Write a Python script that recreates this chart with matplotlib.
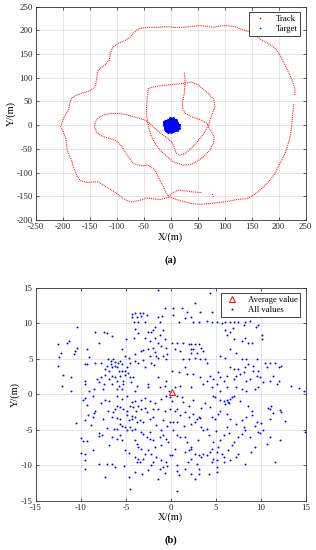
import matplotlib
matplotlib.use("Agg")
import matplotlib.pyplot as plt
from matplotlib.lines import Line2D
import numpy as np

plt.rcParams['font.family'] = ['Liberation Serif', 'DejaVu Serif']
plt.rcParams['axes.unicode_minus'] = False

# ---- track (a), one list per visible stroke ----
outer_x = [230.2, 230.2, 225.9, 221, 214.8, 208.6, 202.4, 193.1, 180.8, 168.4, 156.1, 143.7, 131.3, 119, 103.5,
           91.2, 78.8, 63.4, 51, 35.5, 20.1, 4.6, -10.8, -26.3, -41.7, -57.2, -63.3, -69.5, -75.7, -85, -97.3,
           -106.6, -109.7, -112.8, -114, -122, -131.3, -136.3, -137.5, -140.6, -150, -165.3, -177.7, -183.9,
           -187, -188.2, -190.1, -199.3, -202.4, -204.3, -199.3, -196.2, -193.1, -193, -190, -183.9, -180.8,
           -174.6, -168.4, -156, -143.7, -134.4, -119, -100.4, -85, -72.6, -57.2, -44.8, -35.5, -20, -1.5, 10.8,
           26.3, 38.6, 54, 69.5, 85, 97.3, 109.7, 122, 140.6, 153, 165.3, 174.6, 183.9, 193.1, 199.3, 205.5,
           211.7, 216, 219.7, 222.2, 224, 225.3, 225.9, 227.1, 228.4]
outer_y = [63.4, 77.5, 91.5, 105.6, 119.7, 133.8, 147.9, 162, 172.5, 179.6, 190.1, 197.2, 202.1, 207.7, 209.9,
           209.2, 206.3, 209.2, 209.9, 207.7, 206.3, 206.3, 207.7, 206.3, 206.3, 204.2, 200.7, 193.7, 185.2, 178.2,
           172.5, 165.5, 158.5, 147.9, 137.3, 126.8, 119.7, 112.7, 95.1, 81, 72.5, 66.9, 62, 56.3, 49.3, 38.7,
           31.7, 14.1, 3.5, -3.5, -14.1, -24.6, -35.2, -49.3, -60, -74, -88, -105.6, -116.2, -121, -119.7,
           -119.7, -130.3, -144.4, -157, -162, -158.5, -153.5, -155, -157, -151.4, -157, -162, -165.5, -166.9,
           -165.5, -164, -162, -159.9, -157, -155, -147.9, -137.3, -126.8, -116.2, -102.1, -88, -73.9, -59.9,
           -45.8, -31.7, -17.6, -3.5, 10.6, 21.1, 31.7, 45.8]

inner_x = [25, 26.3, 26.3, 25, 21.9, 21.9, 27.5, 38.6, 54, 65.2, 69.5, 63.4, 54, 44.8, 35.5, 26.3, 17, 9.6, 6.5,
           1.5, -7.7, -18.2, -29.4, -38.6, -47.9, -63.4, -78.8, -94.3, -109.7, -122, -134.4, -139.4, -141.5,
           -138, -128.2, -112.8, -100.4, -91.2, -85, -78.8, -69.5, -54, -41.7, -35, -29.4, -23.2, -17, -10.8, -4.6]
inner_y = [110.6, 98.6, 88, 66.9, 49.3, 35.2, 24.6, 17.6, 12, 4.9, 0, -14, -28.2, -40.1, -51.4, -59.9, -63.4,
           -58.5, -47.2, -35.2, -26, -17.6, -7, 3.5, 10.6, 16.2, 21.1, 24.6, 24.6, 22.5, 16.2, 7, -2,
           -14, -23, -28.2, -33.1, -44.4, -56.3, -66.9, -81, -86, -84.5, -90, -95, -109, -123, -137.3, -150]

branch_x = [-4.6, 5, 13.9, 26.3, 41.7, 57.2]
branch_y = [-150, -142, -137.3, -138.7, -140.8, -142.3]
stray_x = [75.7, 78.8]
stray_y = [-144.4, -149.3]

loop_x = [-41.7, -43.6, -44.8, -44.8, -43, -40.5, -36.8, -30.6, -20, -10, 4.6, 23.2, 38.6, 52, 63.4, 72.6, 79,
          80.5, 77, 69.5, 72.6, 76.9, 81.9, 79.4, 69.5, 60.3, 51, 38.6, 23.2, 4.6, -13.9, -29.4, -41.7]
loop_y = [77.5, 59.9, 38.7, 21.1, 7, -7, -21.1, -35.2, -52.8, -63, -77.5, -84.5, -82.4, -74, -63.4, -52.8, -38,
          -27, -16.2, -3.5, 10.6, 24.6, 40.1, 54.2, 66.9, 75.4, 84.5, 91, 88, 85.9, 83.8, 81, 77.5]

# ---- target positions (b), also the blue blob in (a) ----
pts_ul = [(-1.4, 14.6), (-4.3, 11.3), (-4.0, 11.4), (-3.4, 11.5), (-3.1, 11.4), (-4.3, 10.8), (-3.8, 10.8),
          (-3.3, 11.0), (-4.1, 10.2), (-3.6, 10.1), (-2.9, 10.2), (-2.7, 11.2), (-1.4, 10.8), (-1.2, 10.2),
          (-1.8, 9.5), (-2.2, 8.8), (-2.5, 8.8), (-2.0, 9.1), (-4.0, 9.2), (-3.6, 8.6), (-4.1, 7.9), (-2.9, 7.9),
          (-2.3, 7.5), (-1.8, 7.9), (-1.2, 8.4), (-0.9, 9.1), (-0.6, 7.7), (-1.4, 7.2), (-1.1, 6.8), (-2.0, 6.5),
          (-2.5, 6.3), (-3.1, 6.2), (-3.3, 6.1), (-1.8, 6.0), (-1.7, 5.4), (-0.5, 6.5), (-0.4, 5.6), (-0.9, 5.4),
          (-2.3, 5.4), (-4.0, 5.6), (-4.7, 5.1), (-5.1, 5.4), (-5.4, 6.3), (-5.0, 7.7), (-6.5, 8.2), (-7.1, 8.6),
          (-7.4, 8.7), (-8.4, 8.7), (-10.4, 9.5), (-8.0, 7.2), (-9.3, 6.3), (-10.4, 6.5), (-10.7, 6.1),
          (-10.8, 5.6), (-11.3, 7.5), (-11.5, 7.2), (-12.2, 5.8), (-12.4, 5.2), (-12.6, 7.0), (-12.6, 4.0),
          (-12.0, 2.7), (-11.1, 2.4), (-12.1, 1.1), (-11.1, 0.5), (-9.6, 1.9), (-9.5, 1.4), (-9.1, 0.5),
          (-8.5, 0.7), (-7.6, 0.7), (-9.1, 5.2), (-8.4, 4.4), (-9.3, 4.2), (-9.6, 4.2), (-7.8, 4.4), (-7.0, 4.9),
          (-6.7, 4.7), (-6.7, 4.2), (-7.1, 3.9), (-6.4, 4.9), (-6.2, 4.6), (-5.9, 4.4), (-5.6, 4.7), (-5.4, 4.2),
          (-6.2, 4.0), (-6.5, 3.8), (-6.0, 3.8), (-7.3, 3.5), (-6.9, 3.3), (-5.8, 3.3), (-5.4, 3.3), (-5.1, 3.3),
          (-4.9, 3.8), (-4.5, 4.4), (-4.0, 4.7), (-3.6, 4.4), (-3.1, 4.8), (-2.9, 3.8), (-2.2, 4.4), (-1.9, 4.1),
          (-1.4, 5.1), (-0.5, 4.9), (-7.3, 2.7), (-6.5, 2.6), (-6.2, 2.4), (-5.6, 2.6), (-5.1, 2.7), (-4.8, 3.0),
          (-6.9, 2.1), (-6.0, 1.9), (-5.3, 1.9), (-4.5, 2.4), (-4.2, 2.4), (-7.8, 2.4), (-8.2, 2.1), (-8.0, 1.7),
          (-7.4, 1.4), (-6.5, 1.4), (-5.8, 1.2), (-5.3, 1.4), (-4.4, 1.7), (-3.8, 1.2), (-2.5, 1.4), (-6.0, 0.7),
          (-5.4, 0.7), (-4.0, 0.5), (-2.5, 1.0), (-1.4, 2.4), (-0.5, 1.9), (-1.2, 1.0), (-0.7, 1.2), (-0.2, 0.5),
          (-0.6, 12.1), (-1.0, 11.0)]
pts_ur = [(4.4, 14.2), (2.7, 12.8), (1.2, 12.1), (0.3, 12.1), (1.8, 11.6), (3.3, 11.6), (0.3, 11.2), (0.9, 10.2),
          (1.6, 10.7), (2.2, 10.9), (2.5, 10.2), (3.1, 10.2), (4.0, 10.3), (4.6, 11.6), (4.6, 10.2), (5.1, 10.2),
          (5.7, 10.0), (6.0, 10.2), (6.6, 10.2), (7.0, 10.2), (7.5, 10.1), (8.3, 10.2), (8.8, 10.3), (9.7, 9.8),
          (9.5, 9.4), (6.6, 8.8), (6.0, 9.1), (6.2, 8.4), (7.0, 7.7), (7.9, 7.5), (8.3, 7.9), (8.6, 7.2),
          (9.0, 7.2), (10.1, 7.7), (0.7, 7.2), (0.1, 7.2), (1.4, 7.2), (2.0, 7.0), (2.3, 7.0), (2.7, 7.0),
          (3.1, 7.0), (2.2, 6.3), (2.5, 6.3), (3.4, 6.5), (2.3, 5.8), (2.9, 5.8), (3.6, 6.1), (2.7, 5.1),
          (3.3, 4.9), (3.8, 4.9), (4.0, 4.4), (1.0, 6.1), (0.5, 6.3), (1.4, 4.9), (2.0, 4.9), (5.5, 5.4),
          (6.0, 5.1), (6.6, 6.3), (7.3, 5.8), (7.9, 4.9), (8.4, 4.9), (9.6, 4.9), (10.5, 4.4), (11.0, 4.4),
          (11.6, 4.4), (12.3, 4.0), (12.0, 3.8), (12.0, 1.8), (13.4, 1.2), (14.3, 0.9), (14.8, 0.4), (0.1, 3.3),
          (0.9, 3.1), (1.6, 3.8), (1.8, 2.8), (2.5, 2.8), (3.3, 2.4), (3.6, 1.4), (4.0, 1.9), (4.4, 2.6),
          (4.7, 2.1), (5.3, 3.1), (5.5, 2.4), (5.9, 1.9), (6.2, 2.6), (6.6, 3.8), (7.0, 3.5), (7.3, 2.6),
          (7.7, 2.8), (8.1, 3.1), (8.4, 1.9), (8.8, 2.1), (9.2, 3.3), (9.6, 2.6), (9.9, 2.4), (10.3, 1.7),
          (10.7, 3.8), (11.0, 1.9), (11.4, 2.6), (11.8, 1.4), (5.1, 1.4), (4.6, 1.0), (2.2, 1.0), (1.0, 1.2),
          (0.5, 1.0), (7.3, 1.0), (7.9, 0.7), (9.4, 0.7), (9.7, 1.0), (7.0, 2.1), (7.5, 3.5), (8.3, 3.8),
          (8.6, 4.2), (9.2, 4.0), (9.7, 3.3), (5.5, 0.5), (8.4, 0.4), (6.2, 1.0), (10.2, 8.3), (8.1, 9.8),
          (6.9, 9.3)]
pts_ll = [(-9.8, -0.8), (-9.5, -0.5), (-8.7, -0.3), (-7.3, -0.8), (-6.9, -0.9), (-6.0, -0.2), (-5.4, -0.7),
          (-4.9, -0.3), (-4.3, -1.1), (-4.0, -1.0), (-3.3, -0.8), (-2.9, -0.5), (-2.3, -0.9), (-1.8, -1.3),
          (-1.1, -0.7), (-0.5, -0.2), (-0.1, -0.4), (-9.3, -1.5), (-8.4, -2.4), (-8.5, -2.6), (-7.0, -2.3),
          (-6.4, -2.5), (-6.0, -1.6), (-6.2, -2.1), (-5.6, -1.8), (-5.3, -2.1), (-4.9, -2.3), (-4.5, -1.6),
          (-4.2, -1.8), (-3.6, -1.7), (-3.3, -2.1), (-2.9, -1.9), (-2.7, -2.5), (-2.0, -2.1), (-1.4, -2.1),
          (-0.7, -2.3), (-0.1, -2.1), (-7.6, -3.5), (-8.7, -3.2), (-6.5, -3.2), (-6.0, -3.3), (-5.6, -3.5),
          (-4.9, -3.0), (-4.7, -3.7), (-4.3, -3.5), (-4.0, -3.2), (-3.8, -3.9), (-3.4, -3.7), (-3.1, -3.9),
          (-2.3, -3.5), (-2.0, -3.2), (-0.9, -3.7), (-0.1, -3.9), (-10.6, -4.1), (-8.9, -4.3), (-7.1, -4.7),
          (-6.0, -4.9), (-5.4, -4.5), (-5.1, -4.6), (-4.9, -5.1), (-4.5, -4.6), (-4.3, -5.1), (-4.0, -4.9),
          (-3.3, -5.3), (-3.1, -5.6), (-2.3, -5.3), (-10.0, -6.2), (-9.3, -6.6), (-8.0, -5.5), (-8.0, -5.9),
          (-6.5, -6.0), (-6.0, -6.3), (-5.6, -5.8), (-5.4, -6.5), (-4.0, -6.5), (-3.8, -7.0), (-3.6, -7.4),
          (-3.3, -7.7), (-2.7, -6.0), (-2.3, -6.3), (-2.0, -6.5), (-1.2, -6.0), (-0.9, -5.8), (-0.5, -6.3),
          (-0.3, -6.7), (-1.1, -7.2), (-1.8, -7.4), (-2.5, -7.9), (-2.2, -8.4), (-2.9, -8.4), (-4.0, -8.8),
          (-3.6, -9.1), (-3.1, -9.1), (-3.8, -9.5), (-3.4, -9.5), (-2.0, -9.5), (-1.1, -9.3), (-0.5, -9.5),
          (-0.1, -8.6), (-10.0, -8.3), (-9.5, -8.4), (-8.7, -7.9), (-8.0, -9.8), (-7.1, -9.9), (-6.5, -9.9),
          (-6.2, -10.3), (-7.3, -11.6), (-9.5, -10.6), (-4.0, -10.9), (-2.5, -10.7), (-2.2, -10.0),
          (-1.2, -10.5), (-0.9, -10.2), (-0.4, -10.1), (-4.5, -13.4), (-4.7, -11.6), (-9.6, -9.3),
          (-9.8, -6.6), (-6.9, -7.1), (-7.7, -5.7), (-6.3, -4.9), (-5.7, -4.2), (-4.3, -3.1), (-3.9, -2.4),
          (-1.6, -4.4), (-1.1, -5.1), (-0.4, -4.5), (-7.8, -1.2), (-9.2, -2.9), (-9.6, -3.6), (-5.1, -7.9),
          (-4.6, -8.3), (-1.7, -8.8), (-5.2, -10.1), (-0.7, -11.1), (-3.2, -11.3), (-1.4, -12.0)]
pts_lr = [(0.7, -0.2), (1.2, -0.4), (4.7, -0.3), (4.9, -0.4), (5.5, -0.8), (5.9, -0.9), (6.2, -0.8), (6.6, -0.7),
          (6.8, -0.4), (7.0, -0.2), (6.4, -1.1), (6.0, -1.4), (6.5, -1.3), (7.7, -0.9), (8.6, -1.6), (9.0, -2.3),
          (11.0, -2.1), (11.2, -1.6), (11.0, -3.5), (12.3, -2.5), (12.7, -3.8), (0.1, -0.9), (0.7, -2.1),
          (0.5, -2.3), (1.0, -3.0), (2.0, -1.6), (1.6, -2.5), (2.5, -2.8), (2.9, -3.5), (3.1, -3.2), (2.7, -3.9),
          (3.4, -4.6), (3.6, -5.1), (4.0, -4.9), (2.0, -3.2), (0.3, -3.9), (0.7, -3.9), (2.2, -4.2), (4.4, -1.8),
          (4.6, -3.2), (4.9, -3.5), (5.3, -2.8), (5.5, -2.3), (6.2, -2.8), (6.6, -3.5), (7.3, -4.2), (7.9, -3.7),
          (8.4, -3.2), (9.0, -3.0), (9.6, -3.9), (8.3, -5.1), (8.1, -4.6), (7.9, -5.6), (7.5, -6.0), (7.0, -6.7),
          (6.8, -7.2), (6.4, -7.9), (5.9, -5.8), (5.5, -6.5), (5.3, -7.4), (5.1, -8.1), (5.7, -8.4), (5.9, -8.8),
          (4.7, -6.7), (4.6, -7.7), (4.4, -8.1), (4.0, -8.6), (3.6, -8.4), (3.4, -8.8), (3.1, -8.6), (2.7, -8.4),
          (2.3, -7.7), (2.2, -7.4), (1.8, -6.7), (1.6, -6.0), (1.0, -6.0), (0.7, -5.8), (0.5, -7.7), (0.1, -8.6),
          (1.6, -8.1), (2.0, -7.9), (2.3, -9.1), (2.9, -9.8), (4.7, -9.1), (4.6, -9.5), (5.1, -9.3), (5.9, -9.5),
          (6.6, -9.3), (7.3, -8.8), (7.5, -8.4), (8.3, -9.8), (9.7, -5.3), (10.3, -5.1), (10.7, -7.0),
          (11.0, -6.0), (12.2, -6.5), (11.6, -9.5), (1.6, -10.5), (0.7, -10.0), (0.7, -10.8), (0.9, -11.4),
          (2.3, -11.2), (3.1, -10.5), (3.1, -11.2), (5.1, -10.2), (5.1, -10.9), (0.7, -13.7), (14.9, -5.3),
          (12.2, -2.2), (10.8, -2.0), (11.4, -2.7), (9.9, -5.5), (10.0, -4.0), (9.4, -4.5), (8.8, -6.0),
          (3.2, -3.4), (3.4, -2.0), (1.4, -1.1), (2.5, -0.8), (3.8, -1.2), (4.2, -5.8), (3.0, -6.4), (6.2, -4.6),
          (5.0, -5.2), (6.5, -5.5), (8.9, -8.1), (9.4, -7.4), (2.7, -12.0), (4.3, -11.3), (1.9, -9.5),
          (0.2, -5.0), (1.5, -4.5)]
avg_x, avg_y = 0.1, 0.3

pts = np.array(pts_ul + pts_ur + pts_ll + pts_lr)
tx, ty = pts[:, 0], pts[:, 1]

fig = plt.figure(figsize=(3.16, 5.5), dpi=100)
ax1 = fig.add_axes([0.114, 0.600, 0.853, 0.388])
ax2 = fig.add_axes([0.114, 0.0896, 0.853, 0.3874])

red = '#ff0000'
blue = '#0000ff'


def style(ax):
    ax.grid(True, color='#dcdcdc', lw=0.5)
    ax.set_axisbelow(True)
    ax.tick_params(direction='in', top=True, right=True, length=2.5, width=0.5,
                   labelsize=6.3, pad=2.5, colors='#222222')
    for s in ax.spines.values():
        s.set_linewidth(0.6)
        s.set_color('#333333')


# (a)
dots = dict(color=red, lw=0.8, ls=(0, (0.8, 0.9)))
ax1.plot(outer_x, outer_y, **dots)
ax1.plot(inner_x, inner_y, **dots)
ax1.plot(loop_x, loop_y, **dots)
ax1.plot(branch_x, branch_y, **dots)
ax1.plot(stray_x, stray_y, 'o', color=red, ms=0.8, mew=0)
ax1.plot(tx, ty, 'o', color=blue, ms=2.2, mew=0)
ax1.set_xlim(-250, 250)
ax1.set_ylim(-200, 250)
ax1.set_xticks(np.arange(-250, 251, 50))
ax1.set_yticks(np.arange(-200, 251, 50))
style(ax1)
ax1.set_xlabel('X/(m)', fontsize=7.5, labelpad=0.5)
ax1.set_ylabel('Y/(m)', fontsize=7.5, labelpad=0.5)
h1 = [Line2D([], [], ls='none', marker='o', ms=1.2, mew=0, color=red),
      Line2D([], [], ls='none', marker='o', ms=1.2, mew=0, color=blue)]
lg = ax1.legend(h1, ['Track', 'Target'], loc='upper right', fontsize=6.2, fancybox=False,
                edgecolor='#222222', framealpha=1, borderaxespad=0.6, handlelength=1.8,
                handletextpad=0.9, borderpad=0.35, labelspacing=0.25)
lg.get_frame().set_linewidth(0.6)

# (b)
ax2.plot(tx, ty, 'o', color=blue, ms=1.4, mew=0, label='All values')
ax2.plot([avg_x], [avg_y], '^', mfc='none', mec=red, ms=4.2, mew=0.7, label='Average value')
ax2.set_xlim(-15, 15)
ax2.set_ylim(-15, 15)
ax2.set_xticks(np.arange(-15, 16, 5))
ax2.set_yticks(np.arange(-15, 16, 5))
style(ax2)
ax2.set_xlabel('X/(m)', fontsize=7.5, labelpad=0.5)
ax2.set_ylabel('Y/(m)', fontsize=7.5, labelpad=0.5)
h2 = [Line2D([], [], ls='none', marker='^', mfc='none', mec=red, ms=4.2, mew=0.7),
      Line2D([], [], ls='none', marker='o', ms=1.4, mew=0, color=blue)]
lg2 = ax2.legend(h2, ['Average value', 'All values'], loc='upper right', fontsize=6.2, fancybox=False,
                 edgecolor='#222222', framealpha=1, borderaxespad=0.6, handlelength=1.8,
                 handletextpad=0.9, borderpad=0.35, labelspacing=0.25)
lg2.get_frame().set_linewidth(0.6)

fig.text(0.541, 0.527, '(a)', ha='center', va='center', fontsize=7.5, fontweight='bold')
fig.text(0.541, 0.018, '(b)', ha='center', va='center', fontsize=7.5, fontweight='bold')

fig.savefig('out.png', dpi=100)
